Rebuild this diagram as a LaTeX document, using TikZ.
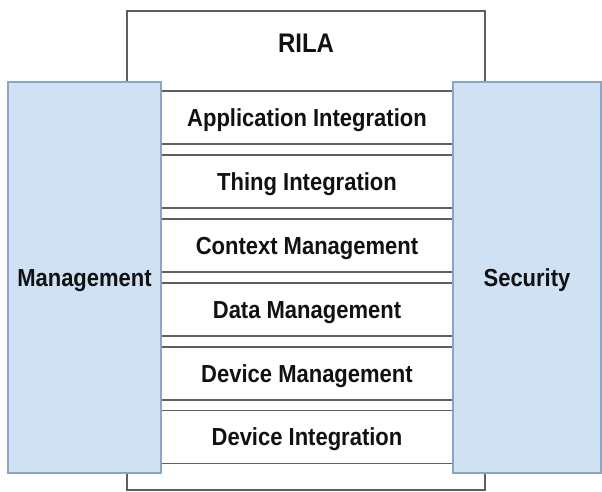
\documentclass[tikz,border=0pt]{standalone}
\usepackage{graphicx}
\usepackage{fontspec}
\setmainfont{Liberation Sans}
\definecolor{bluefill}{HTML}{CFE1F3}
\definecolor{blueline}{HTML}{8BA6C4}
\definecolor{grayline}{HTML}{5F5F5F}
\definecolor{txt}{HTML}{111111}
\newcommand\tallt[1]{\scalebox{1}[1.12]{#1}}
\begin{document}
\begin{tikzpicture}[x=1pt,y=-1pt,
  every node/.style={inner sep=0pt,outer sep=0pt,text=txt,font=\bfseries\fontsize{22}{26}\selectfont,text height=17.6pt,text depth=0pt},
  outerbox/.style={draw=grayline,line width=1.4pt,fill=white,rectangle},
  layerbox/.style={draw=grayline,line width=1.4pt,fill=white,rectangle,minimum width=292pt,minimum height=53pt},
  sidebox/.style={draw=blueline,line width=1.2pt,fill=bluefill,rectangle,minimum height=391pt}]
\useasboundingbox (0,0) rectangle (602,492);
\node[outerbox,minimum width=358pt,minimum height=479pt] (rila) at (306,250.5) {};
\node[font=\bfseries\fontsize{24}{28}\selectfont,text height=19.2pt] (rilat) at (306,42.5) {\tallt{RILA}};
\node[layerbox] (app) at (307,117.5) {\tallt{Application Integration}};
\node[layerbox] (thing) at (307,181.5) {\tallt{Thing Integration}};
\node[layerbox] (ctx) at (307,245.5) {\tallt{Context Management}};
\node[layerbox] (data) at (307,309.5) {\tallt{Data Management}};
\node[layerbox] (devm) at (307,373.5) {\tallt{Device Management}};
\node[layerbox] (devi) at (307,437) {\tallt{Device Integration}};
\node[sidebox,minimum width=153pt] (mgmt) at (84.5,277.5) {\tallt{Management}};
\node[sidebox,minimum width=148pt] (sec) at (527,277.5) {\tallt{Security}};
\end{tikzpicture}
\end{document}
